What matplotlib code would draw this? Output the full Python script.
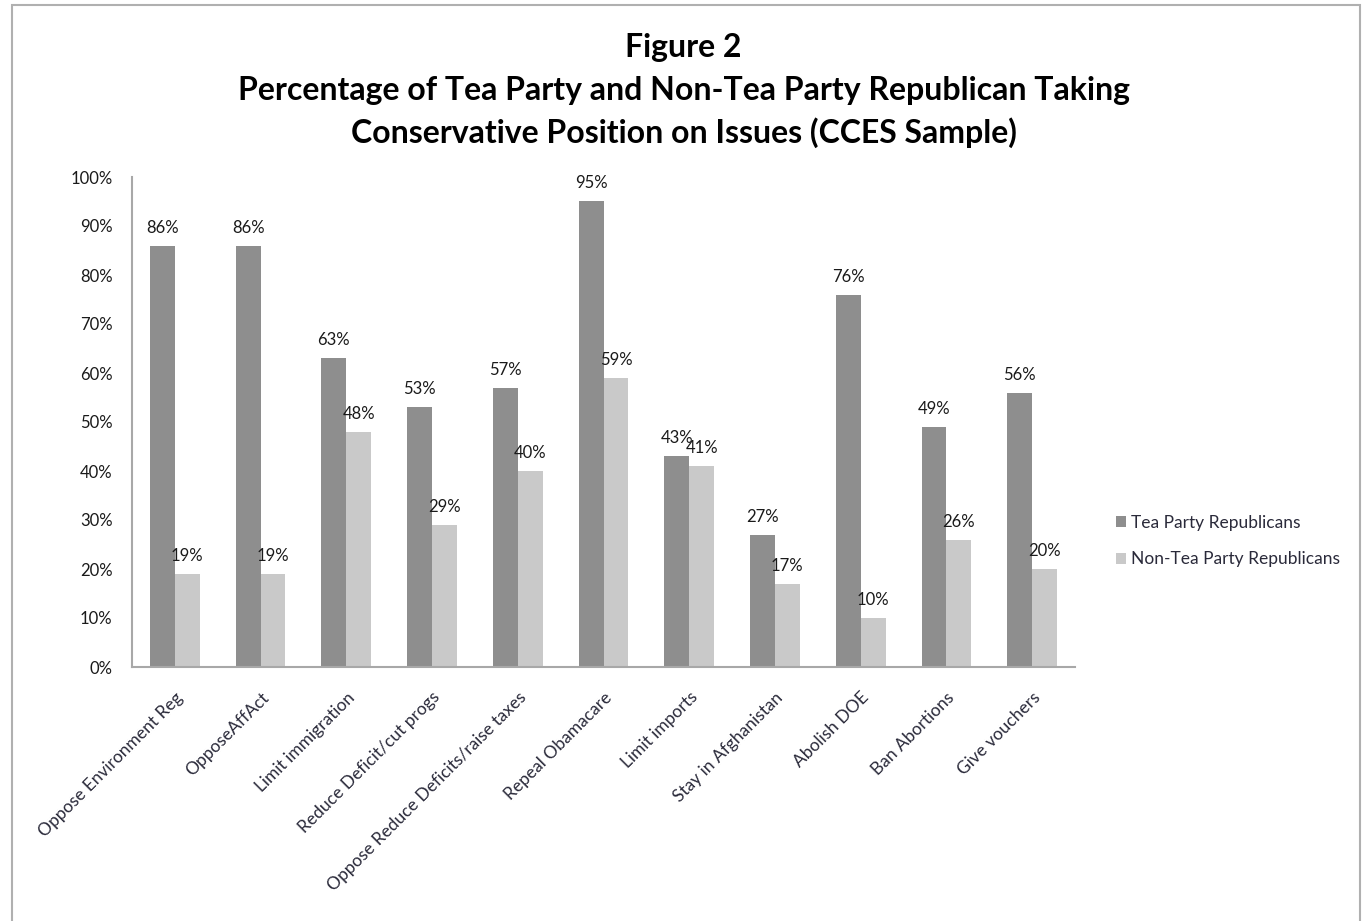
import matplotlib
matplotlib.use("Agg")
import matplotlib.pyplot as plt
import numpy as np
from matplotlib.patches import Rectangle

plt.rcParams["font.family"] = ["Lato", "DejaVu Sans"]

# survey issues and share taking the conservative position (%)
issues = [
    "Oppose Environment Reg",
    "OpposeAffAct",
    "Limit immigration",
    "Reduce Deficit/cut progs",
    "Oppose Reduce Deficits/raise taxes",
    "Repeal Obamacare",
    "Limit imports",
    "Stay in Afghanistan",
    "Abolish DOE",
    "Ban Abortions",
    "Give vouchers",
]
tea_party = [86, 86, 63, 53, 57, 95, 43, 27, 76, 49, 56]
non_tea_party = [19, 19, 48, 29, 40, 59, 41, 17, 10, 26, 20]
series_names = ["Tea Party Republicans", "Non-Tea Party Republicans"]
y_ticks = [0, 10, 20, 30, 40, 50, 60, 70, 80, 90, 100]

DARK = "#8e8e8e"
LIGHT = "#c9c9c9"
TEXT = "#1a1a1a"

W, H = 1367, 921
fig = plt.figure(figsize=(W / 100, H / 100), dpi=100)

# outer chart frame (bottom edge falls off the canvas)
fig.patches.append(Rectangle((12 / W, -0.05), (1360 - 12) / W, 1.05 - 5 / H,
                             transform=fig.transFigure, fill=False,
                             edgecolor="#b0b0b0", linewidth=1.5))

ax = fig.add_axes([132 / W, 1 - 667 / H, (1075 - 132) / W, (667 - 177) / H])

x = np.arange(len(issues))
bw = 0.29
b1 = ax.bar(x - bw / 2, tea_party, bw, color=DARK, label=series_names[0])
b2 = ax.bar(x + bw / 2, non_tea_party, bw, color=LIGHT, label=series_names[1])

for bars, vals in ((b1, tea_party), (b2, non_tea_party)):
    for rect, v in zip(bars, vals):
        ax.annotate(f"{v}%", (rect.get_x() + rect.get_width() / 2, v),
                    xytext=(0, 13), textcoords="offset points",
                    ha="center", va="center", fontsize=12, color=TEXT)

ax.set_xlim(-0.5, len(issues) - 0.5)
ax.set_ylim(0, 100)
ax.set_yticks(y_ticks)
ax.set_yticklabels([f"{t}%" for t in y_ticks], fontsize=12, color=TEXT)
ax.set_xticks(x)
ax.set_xticklabels(issues, rotation=45, ha="right", rotation_mode="anchor",
                   fontsize=12.5, color="#2a2a3a")
ax.tick_params(axis="y", length=0, pad=14)
ax.tick_params(axis="x", length=0, pad=16)

for side in ("top", "right"):
    ax.spines[side].set_visible(False)
for side in ("left", "bottom"):
    ax.spines[side].set_color("#a8a8a8")
    ax.spines[side].set_linewidth(1.5)

leg = fig.legend(handles=[b1, b2], labels=series_names,
                 loc="center left", bbox_to_anchor=(1100 / W, 1 - 541 / H),
                 frameon=False, fontsize=12.5, handlelength=0.6,
                 handleheight=0.6, handletextpad=0.3, labelspacing=1.2)
for t in leg.get_texts():
    t.set_color("#2a2a3a")

fig.text(0.5, 1 - 47 / H, "Figure 2", ha="center", va="center",
         fontsize=23, fontweight="bold", color="black")
fig.text(0.5, 1 - 112 / H,
         "Percentage of Tea Party and Non-Tea Party Republican Taking\n"
         "Conservative Position on Issues (CCES Sample)",
         ha="center", va="center", fontsize=23, fontweight="bold",
         color="black", linespacing=1.45)

fig.savefig("out.png", dpi=100)
